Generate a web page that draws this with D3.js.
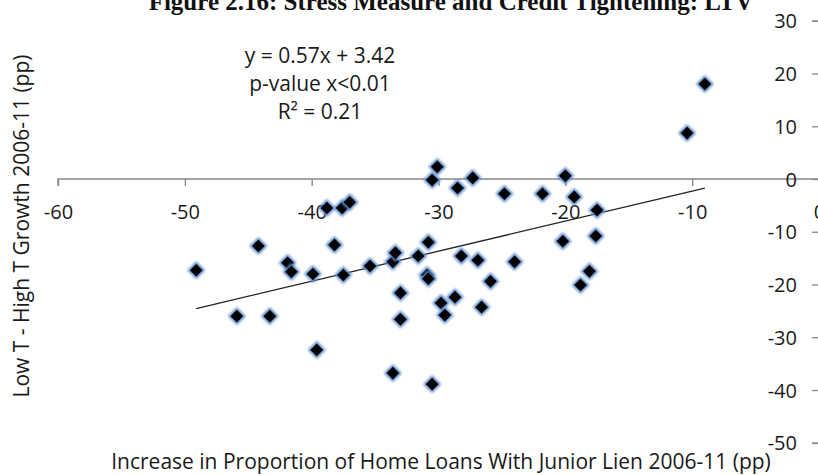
<!DOCTYPE html>
<html>
<head>
<meta charset="utf-8">
<script src="https://cdn.jsdelivr.net/npm/d3@7"></script>
<style>
  html, body { margin: 0; padding: 0; background: #fff; }
  svg { display: block; }
</style>
</head>
<body>
<script>
// Junior-lien change (x) vs. low-T minus high-T growth (y), 2006-11, in pp
const juniorLienChange = [
  -49.1, -45.9, -44.2, -43.3, -41.9, -41.6, -39.9, -39.6, -38.8, -38.2,
  -37.6, -37.5, -37.0, -35.4, -33.6, -33.4, -33.6, -33.0, -33.0, -31.6,
  -30.8, -30.9, -30.8, -30.5, -30.1, -30.5, -29.8, -29.5, -28.7, -28.5,
  -28.2, -27.3, -26.9, -26.6, -25.9, -24.8, -24.0, -21.8, -20.2, -20.0,
  -19.3, -18.8, -18.1, -17.5, -17.6, -10.4, -9.0
];
const growthGap = [
  -17.3, -26.0, -12.7, -26.0, -15.9, -17.6, -18.0, -32.4, -5.5, -12.5,
  -5.5, -18.2, -4.4, -16.5, -15.7, -14.0, -36.8, -21.6, -26.6, -14.6,
  -12.0, -18.2, -18.9, -0.2, 2.3, -38.9, -23.5, -25.8, -22.4, -1.7,
  -14.6, 0.2, -15.4, -24.3, -19.4, -2.8, -15.7, -2.8, -11.8, 0.6,
  -3.4, -20.1, -17.5, -5.9, -10.8, 8.7, 18.0
];

// Fitted trend line and its statistics
const slope = 0.57;
const intercept = 3.42;
const fitLabels = ["y = 0.57x + 3.42", "p-value x<0.01", "R² = 0.21"];

const xTicks = [-60, -50, -40, -30, -20, -10, 0];
const yTicks = [30, 20, 10, 0, -10, -20, -30, -40, -50];

const titleText = "Figure 2.16: Stress Measure and Credit Tightening: LTV";
const xTitle = "Increase in Proportion of Home Loans With Junior Lien 2006-11 (pp)";
const yTitle = "Low T - High T Growth 2006-11 (pp)";

const W = 818, H = 475;
const axisColor = "#868686";
const textColor = "#1a1a1a";
const uiFont = "'Open Sans', Lato, sans-serif";
const tickSize = 20;
const labelSize = 21;

const svg = d3.select("body").append("svg")
  .attr("width", W).attr("height", H);

const defs = svg.append("defs");
defs.append("filter").attr("id", "soft")
  .attr("x", "-50%").attr("y", "-50%").attr("width", "200%").attr("height", "200%")
  .append("feGaussianBlur").attr("stdDeviation", 0.9);

const x = d3.scaleLinear().domain([-60, 0]).range([58, 819]);
const y = d3.scaleLinear().domain([-50, 30]).range([442.75, 20.75]);

// Page heading, running off the top edge
svg.append("text")
  .attr("x", 451).attr("y", 10)
  .attr("text-anchor", "middle")
  .attr("font-family", "'Liberation Serif', 'Times New Roman', serif")
  .attr("font-weight", "bold")
  .attr("font-size", 25)
  .attr("fill", "#111")
  .text(titleText);

// Horizontal axis drawn through y = 0, ticks hanging below
const xAxis = d3.axisBottom(x).tickValues(xTicks).tickSize(7);
const gx = svg.append("g").attr("transform", `translate(0,${y(0)})`).call(xAxis);
gx.select(".domain").attr("stroke", axisColor).attr("stroke-width", 1.3)
  .attr("fill", "none")
  .attr("d", `M${x(-60)},7V0H${x(0)}`);
gx.selectAll(".tick line").attr("stroke", axisColor).attr("stroke-width", 1.3);
gx.selectAll(".tick text")
  .attr("y", 33)
  .attr("dy", "0.35em")
  .attr("font-family", uiFont).attr("font-size", tickSize)
  .attr("fill", textColor)
  .text(d => d === 0 ? "0" : "-" + Math.abs(d));

// Vertical axis at x = 0, on the right edge of the plot
const yAxis = d3.axisLeft(y).tickValues(yTicks).tickSize(7);
const gy = svg.append("g").attr("transform", `translate(${x(0)},0)`).call(yAxis);
gy.select(".domain").attr("stroke", axisColor).attr("stroke-width", 1.3).attr("fill", "none");
gy.selectAll(".tick line").attr("stroke", axisColor).attr("stroke-width", 1.3);
gy.selectAll(".tick text")
  .attr("x", -22)
  .attr("dy", "0.35em")
  .attr("font-family", uiFont).attr("font-size", tickSize)
  .attr("fill", textColor)
  .text(d => d < 0 ? "-" + Math.abs(d) : String(d));

// Linear trend across the observed x range
const xExtent = d3.extent(juniorLienChange);
svg.append("line")
  .attr("x1", x(xExtent[0])).attr("y1", y(slope * xExtent[0] + intercept))
  .attr("x2", x(xExtent[1])).attr("y2", y(slope * xExtent[1] + intercept))
  .attr("stroke", "#222").attr("stroke-width", 1.3);

// Diamond markers: soft blue halo under a black core
const points = juniorLienChange.map((v, i) => ({ x: v, y: growthGap[i] }));
const halo = d3.symbol().type(d3.symbolSquare).size(160);
const core = d3.symbol().type(d3.symbolSquare).size(80);
const marks = svg.append("g").selectAll("g").data(points).join("g")
  .attr("transform", d => `translate(${x(d.x)},${y(d.y)}) rotate(45)`);
marks.append("path").attr("d", halo).attr("fill", "#5b8ccb").attr("filter", "url(#soft)");
marks.append("path").attr("d", core).attr("fill", "#000");

// Regression annotation
svg.append("g").selectAll("text").data(fitLabels).join("text")
  .attr("x", 320).attr("y", (d, i) => 63 + i * 28)
  .attr("text-anchor", "middle")
  .attr("font-family", uiFont).attr("font-size", labelSize)
  .attr("fill", textColor)
  .text(d => d);

// Axis titles
svg.append("text")
  .attr("x", 441).attr("y", 469)
  .attr("text-anchor", "middle")
  .attr("font-family", uiFont).attr("font-size", labelSize)
  .attr("fill", textColor)
  .text(xTitle);

svg.append("text")
  .attr("transform", "translate(29,226) rotate(-90)")
  .attr("text-anchor", "middle")
  .attr("font-family", uiFont).attr("font-size", labelSize)
  .attr("fill", textColor)
  .text(yTitle);
</script>
</body>
</html>
